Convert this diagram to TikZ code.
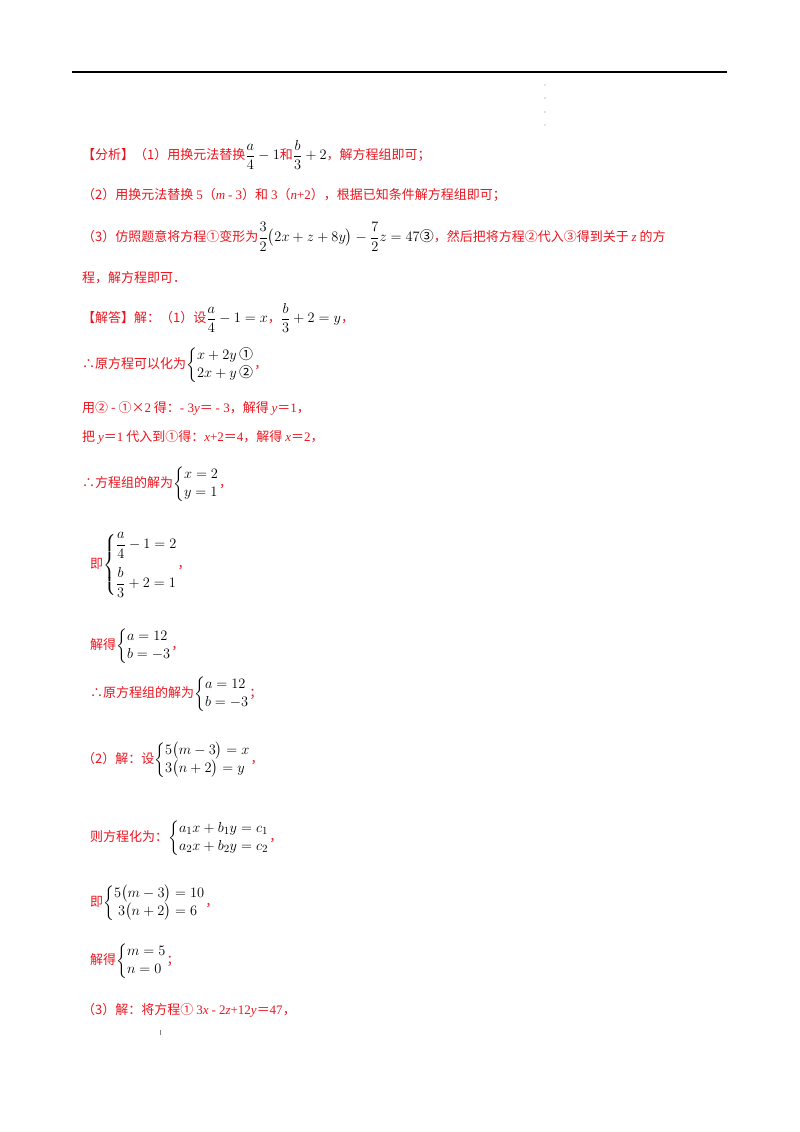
\documentclass[tikz,border=0pt]{standalone}
\usepackage{amsmath}
\usepackage{fontspec}
\setmainfont{Noto Sans CJK SC}
\newfontfamily\tf{Liberation Serif}
\definecolor{rd}{RGB}{235,20,30}
\newcommand{\bk}[1]{\textcolor{black}{\fontsize{15}{18}\selectfont #1}}
\newcommand{\cc}[1]{\mbox{\normalfont\fontsize{14}{16}\selectfont #1}}
\newcommand{\ti}[1]{{\tf\itshape #1}}
\newcommand{\tr}[1]{{\tf #1}}
\begin{document}
\begin{tikzpicture}[x=1pt,y=-1pt,
  ln/.style={anchor=west,inner sep=0pt,text=rd,font=\fontsize{13}{16}\selectfont}]
\useasboundingbox (0,0) rectangle (800,1132);
\draw[line width=1.3pt] (72,72) -- (727,72);
\foreach \yy in {85,98,112,125} \fill[gray] (545,\yy) circle (0.6);
\node[ln] (l1) at (82,155) {【分析】（1）用换元法替换\bk{$\dfrac{a}{4}-1$}和\bk{$\dfrac{b}{3}+2$}，解方程组即可；};
\node[ln] (l2) at (82,195) {（2）用换元法替换 \tr{5}（\ti{m} \tr{- 3}）和 \tr{3}（\ti{n}\tr{+2}），根据已知条件解方程组即可；};
\node[ln] (l3) at (82,237) {（3）仿照题意将方程①变形为\bk{$\dfrac{3}{2}\bigl(2x+z+8y\bigr)-\dfrac{7}{2}z=47$\cc{③}}，然后把将方程②代入③得到关于 \ti{z} 的方};
\node[ln] (l4) at (82,278) {程，解方程即可．};
\node[ln] (l5) at (82,318) {【解答】解：（1）设\bk{$\dfrac{a}{4}-1=x$}，\bk{$\dfrac{b}{3}+2=y$}，};
\node[ln] (l6) at (82,365) {∴原方程可以化为\bk{$\left\{\begin{array}{@{}l@{}}x+2y\,\cc{①}\\2x+y\,\cc{②}\end{array}\right.$}，};
\node[ln] (l7) at (82,408) {用② - ①×\tr{2} 得：\tr{- 3}\ti{y}＝ \tr{- 3}，解得 \ti{y}＝\tr{1}，};
\node[ln] (l8) at (82,437) {把 \ti{y}＝\tr{1} 代入到①得：\ti{x}\tr{+2}＝\tr{4}，解得 \ti{x}＝\tr{2}，};
\node[ln] (l9) at (82,484) {∴方程组的解为\bk{$\left\{\begin{array}{@{}l@{}}x=2\\y=1\end{array}\right.$}，};
\node[ln] (l10) at (90,565) {即\bk{$\left\{\begin{array}{@{}l@{}}\dfrac{a}{4}-1=2\\[14pt]\dfrac{b}{3}+2=1\end{array}\right.$}，};
\node[ln] (l11) at (90,646) {解得\bk{$\left\{\begin{array}{@{}l@{}}a=12\\b=-3\end{array}\right.$}，};
\node[ln] (l12) at (90,694) {∴原方程组的解为\bk{$\left\{\begin{array}{@{}l@{}}a=12\\b=-3\end{array}\right.$}；};
\node[ln] (l13) at (82,760) {（2）解：设\bk{$\left\{\begin{array}{@{}l@{}}5\bigl(m-3\bigr)=x\\3\bigl(n+2\bigr)=y\end{array}\right.$}，};
\node[ln] (l14) at (90,838) {则方程化为：\bk{$\left\{\begin{array}{@{}l@{}}a_1x+b_1y=c_1\\a_2x+b_2y=c_2\end{array}\right.$}，};
\node[ln] (l15) at (90,903) {即\bk{$\left\{\begin{array}{@{}l@{}}5\bigl(m-3\bigr)=10\\\;3\bigl(n+2\bigr)=6\end{array}\right.$}，};
\node[ln] (l16) at (90,961) {解得\bk{$\left\{\begin{array}{@{}l@{}}m=5\\n=0\end{array}\right.$}；};
\node[ln] (l17) at (82,1010) {（3）解：将方程① \tr{3}\ti{x} \tr{- 2}\ti{z}\tr{+12}\ti{y}＝\tr{47}，};
\fill[gray] (160,1030) rectangle (161,1035);
\end{tikzpicture}
\end{document}
